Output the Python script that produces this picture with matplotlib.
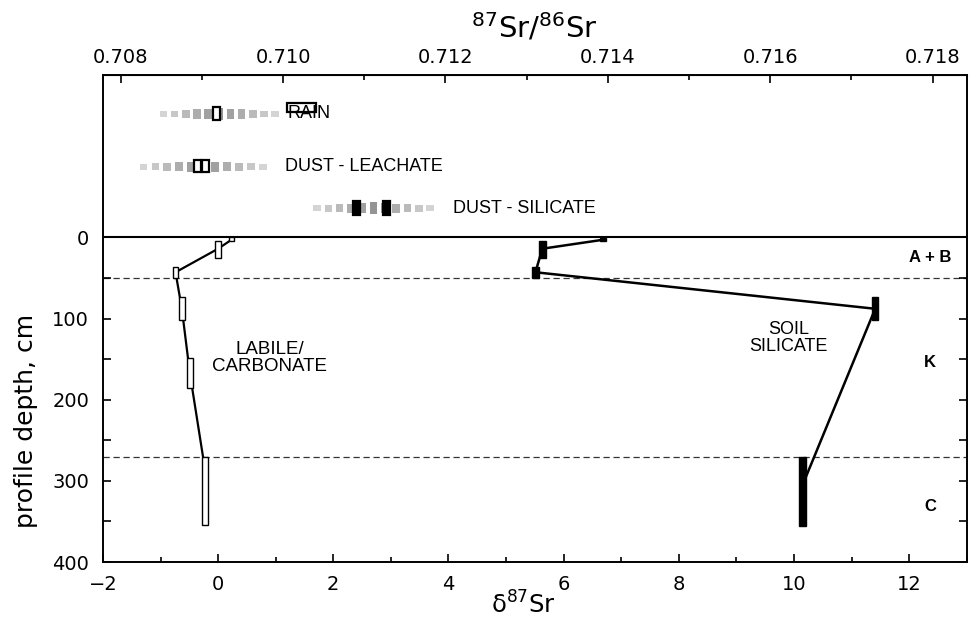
import numpy as np
import matplotlib
matplotlib.use('Agg')
import matplotlib.pyplot as plt
from matplotlib.patches import Rectangle
from matplotlib.ticker import MultipleLocator, FixedLocator

plt.rcParams['font.family'] = ['Liberation Sans', 'DejaVu Sans']
plt.rcParams['mathtext.fontset'] = 'dejavusans'

# soil profile samples: delta87Sr and depth interval (cm)
labile_delta = [0.23, 0.0, -0.74, -0.63, -0.49, -0.23]
labile_top = [0, 4, 37, 74, 149, 271]
labile_bot = [5, 25, 50, 102, 186, 354]
labile_line_depth = [3, 14, 43, 88, 168, 285]

silicate_delta = [6.68, 5.63, 5.51, 11.41, 10.15]
silicate_top = [1, 4, 36, 74, 271]
silicate_bot = [5, 25, 50, 102, 355]
silicate_line_depth = [3, 14, 43, 88, 305]

# source end members (drawn above the surface)
source_names = ['RAIN', 'DUST - LEACHATE', 'DUST - SILICATE']
source_lo = [-0.95, -1.3, 1.72]
source_hi = [0.99, 0.78, 3.68]
source_depth = [-152, -87, -36]
source_label_x = [1.2, 1.16, 4.08]
source_box_delta = [[-0.03, 1.45], [-0.36, -0.22], [2.41, 2.93]]
source_box_halfw = [[0.055, 0.25], [0.065, 0.065], [0.06, 0.06]]
source_box_top = [[-160, -165], [-95, -95], [-45, -45]]
source_box_bot = [[-144, -154], [-81, -81], [-27, -27]]
source_box_filled = [False, False, True]

horizon_names = ['A + B', 'K', 'C']
horizon_depth = [25, 154, 331]
horizon_bounds = [50, 270]

R0 = 0.7092
tick_font = 'DejaVu Sans'

fig = plt.figure(figsize=(9.76, 6.2), dpi=100)
ax = fig.add_axes([0.1055, 0.0935, 0.885, 0.7855])
ax.set_xlim(-2, 13)
ax.set_ylim(400, -200)

# surface and horizon boundaries
ax.axhline(0, color='black', lw=1.5, zorder=2)
for d in horizon_bounds:
    ax.axhline(d, color='#333333', lw=0.9, ls=(0, (5, 3)), zorder=1)

# lines joining samples
ax.plot(labile_delta, labile_line_depth, color='black', lw=1.6, zorder=3)
ax.plot(silicate_delta, silicate_line_depth, color='black', lw=1.8, zorder=3)

for x, t, b in zip(labile_delta, labile_top, labile_bot):
    ax.add_patch(Rectangle((x - 0.05, t), 0.1, b - t, facecolor='white',
                           edgecolor='black', lw=1.0, zorder=4))
for x, t, b in zip(silicate_delta, silicate_top, silicate_bot):
    ax.add_patch(Rectangle((x - 0.055, t), 0.11, b - t, facecolor='black',
                           edgecolor='black', lw=1.0, zorder=4))

# stippled source ranges
n_sq = 11
for i in range(len(source_names)):
    xs = np.linspace(source_lo[i], source_hi[i], n_sq)
    mid = (n_sq - 1) / 2
    for k, x in enumerate(xs):
        f = abs(k - mid) / mid
        g = 0.58 + 0.25 * f
        h = 14 - 7 * f
        ax.add_patch(Rectangle((x - 0.065, source_depth[i] - h / 2), 0.13, h,
                               facecolor=(g, g, g), edgecolor='none', zorder=2))
    for x, hw, t, b in zip(source_box_delta[i], source_box_halfw[i],
                           source_box_top[i], source_box_bot[i]):
        fc = 'black' if source_box_filled[i] else 'white'
        if not source_box_filled[i] and i == 0 and x > 1:
            fc = 'none'
        ax.add_patch(Rectangle((x - hw, t), 2 * hw, b - t, facecolor=fc,
                               edgecolor='black', lw=1.6, zorder=4))
    ax.text(source_label_x[i], source_depth[i], source_names[i], fontsize=13,
            ha='left', va='center', zorder=5)

ax.text(0.9, 149, 'LABILE/\nCARBONATE', fontsize=13.5, ha='center',
        va='center', linespacing=1.0)
ax.text(9.9, 124, 'SOIL\nSILICATE', fontsize=13, ha='center',
        va='center', linespacing=1.0)
for name, d in zip(horizon_names, horizon_depth):
    ax.text(12.36, d, name, fontsize=12, fontweight='bold',
            ha='center', va='center')

# axes styling
ax.xaxis.set_major_locator(MultipleLocator(2))
ax.xaxis.set_minor_locator(MultipleLocator(1))
ax.yaxis.set_major_locator(FixedLocator([0, 100, 200, 300, 400]))
ax.yaxis.set_minor_locator(FixedLocator([50, 150, 250, 350]))
ax.tick_params(axis='both', which='both', direction='in', width=1.2,
               labelsize=14, labelfontfamily=tick_font)
ax.tick_params(axis='y', which='both', right=True, length=6, pad=10)
ax.tick_params(axis='x', which='major', length=6, pad=9)
ax.tick_params(axis='x', which='minor', length=3.5)
for s in ax.spines.values():
    s.set_linewidth(1.4)

ax.set_xlabel(r'δ$^{87}$Sr', fontsize=17.5, family=tick_font)
ax.xaxis.set_label_coords(0.487, -0.06)
ax.set_ylabel('profile depth, cm', fontsize=18, family=tick_font)
ax.yaxis.set_label_coords(-0.075, 0.29)

top = ax.secondary_xaxis('top', functions=(lambda d: R0 * (1 + d / 1000.0),
                                           lambda r: (r / R0 - 1) * 1000.0))
top.xaxis.set_major_locator(FixedLocator([0.708, 0.710, 0.712, 0.714, 0.716, 0.718]))
top.xaxis.set_minor_locator(FixedLocator([0.709, 0.711, 0.713, 0.715, 0.717]))
top.set_xticklabels(['0.708', '0.710', '0.712', '0.714', '0.716', '0.718'])
top.tick_params(which='both', direction='in', width=1.2, labelsize=14,
                labelfontfamily=tick_font, pad=6)
top.tick_params(which='major', length=6)
top.tick_params(which='minor', length=3.5)
top.set_xlabel(r'$^{87}$Sr/$^{86}$Sr', fontsize=21, family=tick_font, labelpad=7)

fig.savefig('out.png', dpi=100)
